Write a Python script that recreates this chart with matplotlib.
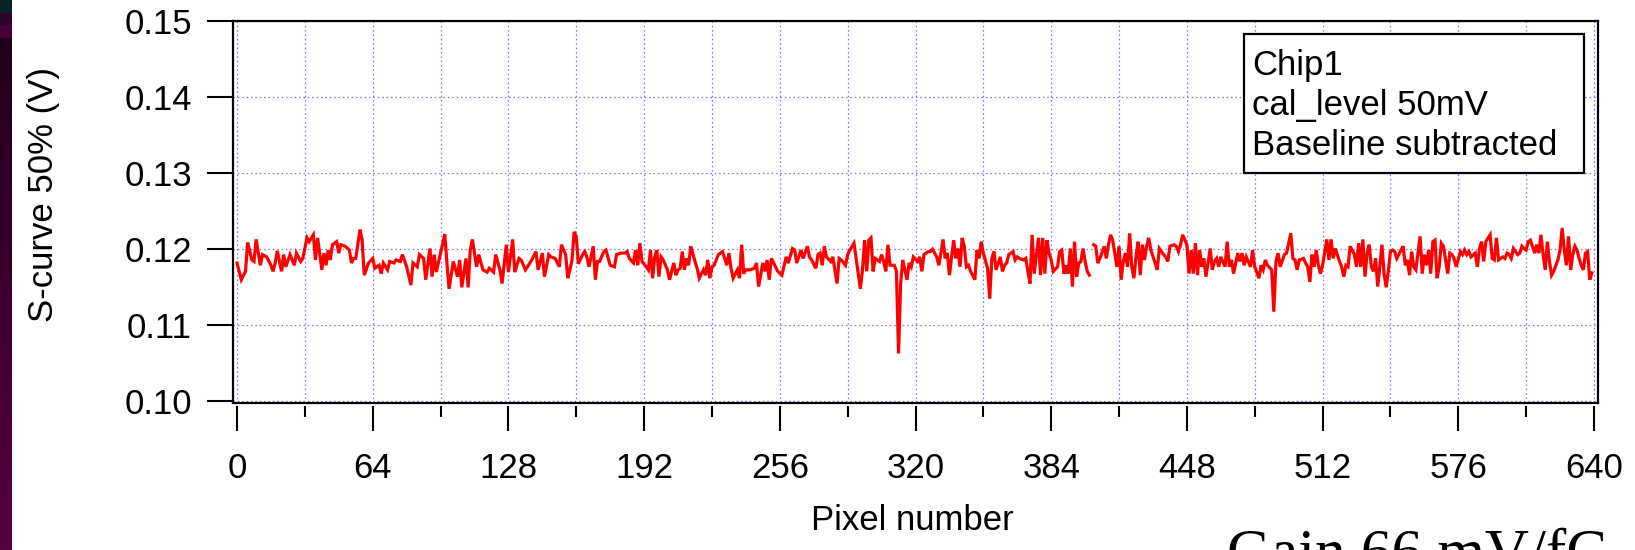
import numpy as np
import matplotlib
matplotlib.use("Agg")
import matplotlib.pyplot as plt
from matplotlib.patches import Rectangle
from matplotlib.lines import Line2D

# S-curve 50% point per pixel (pixel, volts)
seg1 = [(0, 0.1182), (2, 0.1160), (4, 0.1171), (5, 0.1209), (7, 0.1186), (8, 0.1184), (9, 0.1213),
        (11, 0.1179), (12, 0.1193), (14, 0.1190), (16, 0.1179), (17, 0.1171), (18, 0.1182), (19, 0.1198),
        (21, 0.1171), (22, 0.1193), (23, 0.1177), (25, 0.1193), (27, 0.1179), (28, 0.1195), (30, 0.1184),
        (31, 0.1188), (33, 0.1215), (34, 0.1210), (36, 0.1219), (37, 0.1186), (38, 0.1215), (40, 0.1173),
        (41, 0.1195), (42, 0.1179), (43, 0.1199), (44, 0.1186), (45, 0.1206), (47, 0.1210), (48, 0.1195),
        (49, 0.1206), (51, 0.1204), (53, 0.1199), (54, 0.1182), (55, 0.1188), (56, 0.1188), (58, 0.1226),
        (59, 0.1212), (60, 0.1166), (62, 0.1182), (64, 0.1188), (65, 0.1175), (67, 0.1179), (68, 0.1168),
        (69, 0.1182), (71, 0.1173), (72, 0.1184), (74, 0.1182), (75, 0.1186), (77, 0.1184), (78, 0.1193),
        (80, 0.1177), (82, 0.1153), (83, 0.1182), (85, 0.1177), (86, 0.1193), (88, 0.1188), (89, 0.1160),
        (91, 0.1201), (92, 0.1164), (93, 0.1193), (94, 0.1170), (96, 0.1195), (98, 0.1220), (99, 0.1182),
        (100, 0.1148), (102, 0.1184), (104, 0.1164), (105, 0.1186), (106, 0.1150), (108, 0.1188),
        (109, 0.1150), (110, 0.1199), (111, 0.1213), (113, 0.1177), (114, 0.1193), (116, 0.1173),
        (118, 0.1170), (119, 0.1175), (121, 0.1170), (122, 0.1193), (124, 0.1173), (125, 0.1155),
        (127, 0.1206), (128, 0.1170), (130, 0.1213), (131, 0.1170), (133, 0.1188), (134, 0.1186),
        (136, 0.1173), (137, 0.1177), (139, 0.1186), (141, 0.1197), (142, 0.1173), (144, 0.1195),
        (145, 0.1164), (147, 0.1193), (148, 0.1190), (150, 0.1188), (152, 0.1177), (153, 0.1206),
        (155, 0.1193), (156, 0.1162), (157, 0.1173)]

seg2 = [(158, 0.1186), (159, 0.1223), (160, 0.1217), (161, 0.1181), (163, 0.1193), (164, 0.1197),
        (165, 0.1190), (166, 0.1177), (168, 0.1204), (169, 0.1160), (170, 0.1184), (171, 0.1184),
        (173, 0.1197), (174, 0.1199), (176, 0.1179), (178, 0.1177), (179, 0.1193), (181, 0.1195),
        (183, 0.1195), (184, 0.1197), (185, 0.1188), (187, 0.1182), (188, 0.1199), (189, 0.1179),
        (190, 0.1208), (191, 0.1184), (193, 0.1177), (194, 0.1173), (195, 0.1199), (196, 0.1162),
        (197, 0.1190), (198, 0.1199), (199, 0.1164), (200, 0.1190), (201, 0.1186), (203, 0.1173),
        (204, 0.1160), (206, 0.1182), (207, 0.1166), (208, 0.1173), (209, 0.1175), (210, 0.1197),
        (211, 0.1173), (212, 0.1188), (213, 0.1179), (214, 0.1204), (216, 0.1184), (217, 0.1175),
        (218, 0.1162), (220, 0.1173), (221, 0.1166), (222, 0.1186), (223, 0.1162), (224, 0.1177),
        (225, 0.1179), (227, 0.1193), (228, 0.1195), (229, 0.1197), (231, 0.1179), (232, 0.1195),
        (233, 0.1175), (234, 0.1162), (236, 0.1173), (237, 0.1162), (238, 0.1206), (239, 0.1168),
        (240, 0.1173), (242, 0.1173), (244, 0.1175), (245, 0.1182), (246, 0.1151), (248, 0.1182),
        (249, 0.1171), (250, 0.1186), (251, 0.1160), (252, 0.1188), (254, 0.1177), (255, 0.1171),
        (257, 0.1166), (259, 0.1190), (260, 0.1182), (262, 0.1201), (263, 0.1199), (264, 0.1182),
        (266, 0.1199), (267, 0.1188), (269, 0.1204), (270, 0.1190), (271, 0.1186), (273, 0.1175),
        (274, 0.1193), (275, 0.1195), (276, 0.1179), (277, 0.1204), (278, 0.1190), (280, 0.1184),
        (281, 0.1190), (283, 0.1155), (284, 0.1188), (285, 0.1186), (287, 0.1179), (288, 0.1193),
        (289, 0.1199), (291, 0.1208), (292, 0.1188), (294, 0.1148), (295, 0.1173), (296, 0.1212),
        (297, 0.1171), (298, 0.1212), (299, 0.1215), (300, 0.1171), (301, 0.1188), (303, 0.1184),
        (304, 0.1193), (305, 0.1184), (306, 0.1171), (307, 0.1206), (308, 0.1179), (310, 0.1179),
        (311, 0.1171), (312, 0.1063), (313, 0.1155), (314, 0.1186), (316, 0.1160), (317, 0.1182)]

seg3 = [(318, 0.1177), (319, 0.1190), (321, 0.1184), (322, 0.1190), (323, 0.1171), (324, 0.1193),
        (325, 0.1195), (326, 0.1197), (327, 0.1197), (328, 0.1200), (330, 0.1190), (331, 0.1179),
        (332, 0.1195), (333, 0.1213), (334, 0.1188), (335, 0.1195), (336, 0.1166), (338, 0.1212),
        (339, 0.1188), (340, 0.1201), (341, 0.1177), (342, 0.1215), (343, 0.1204), (344, 0.1177),
        (345, 0.1179), (346, 0.1171), (348, 0.1160), (349, 0.1199), (350, 0.1188), (351, 0.1210),
        (352, 0.1195), (354, 0.1175), (355, 0.1135), (356, 0.1188), (357, 0.1197), (358, 0.1173),
        (360, 0.1190), (361, 0.1171), (362, 0.1179), (363, 0.1182), (364, 0.1193), (366, 0.1197),
        (367, 0.1186), (368, 0.1190), (369, 0.1188), (371, 0.1186), (372, 0.1188), (373, 0.1171),
        (374, 0.1155), (375, 0.1219), (376, 0.1168), (378, 0.1215), (379, 0.1166), (380, 0.1215),
        (381, 0.1168), (382, 0.1212), (383, 0.1195), (384, 0.1186), (385, 0.1171), (387, 0.1177),
        (388, 0.1197), (389, 0.1199), (390, 0.1168), (391, 0.1179), (392, 0.1168), (393, 0.1201),
        (394, 0.1151), (395, 0.1210), (396, 0.1164), (397, 0.1182), (398, 0.1184), (399, 0.1201),
        (400, 0.1184), (401, 0.1171), (402, 0.1166), (403, np.nan),
        (404, 0.1206), (405, 0.1204), (406, 0.1182), (407, 0.1188), (409, 0.1204), (410, 0.1188),
        (411, 0.1206), (412, 0.1219), (413, 0.1212), (415, 0.1177), (416, 0.1204), (417, 0.1160),
        (418, 0.1184), (419, 0.1195), (420, 0.1177), (421, 0.1221), (422, 0.1177), (423, 0.1162),
        (424, 0.1190), (425, 0.1210), (426, 0.1166), (427, 0.1206), (428, 0.1186), (429, 0.1204),
        (430, 0.1215), (431, 0.1199), (433, 0.1182), (434, 0.1173), (435, 0.1201), (436, 0.1197),
        (437, 0.1193), (438, 0.1190), (439, 0.1184), (440, 0.1204), (442, 0.1206), (443, 0.1204),
        (444, 0.1197), (445, 0.1206), (446, 0.1219), (448, 0.1206), (449, 0.1168), (450, 0.1199),
        (451, 0.1168), (452, 0.1208), (453, 0.1166), (454, 0.1199), (455, 0.1177), (456, 0.1188),
        (457, 0.1164), (459, 0.1201), (460, 0.1173), (461, 0.1184), (462, 0.1188), (463, 0.1177),
        (464, 0.1190), (466, 0.1177), (467, 0.1210), (468, 0.1177), (469, 0.1186), (470, 0.1168),
        (472, 0.1195), (473, 0.1184), (474, 0.1195), (475, 0.1179), (476, 0.1190), (478, 0.1177)]

seg4 = [(479, 0.1199), (480, 0.1177), (482, 0.1162), (483, 0.1179), (484, 0.1173), (485, 0.1186),
        (486, 0.1179), (488, 0.1173), (489, 0.1118), (490, 0.1184), (491, 0.1195), (492, 0.1177),
        (494, 0.1193), (495, 0.1195), (497, 0.1221), (498, 0.1188), (499, 0.1186), (500, 0.1173),
        (501, 0.1186), (503, 0.1188), (504, 0.1182), (505, 0.1177), (506, 0.1157), (507, 0.1193),
        (508, 0.1177), (509, 0.1199), (510, 0.1179), (511, 0.1168), (512, 0.1179), (514, 0.1213),
        (515, 0.1186), (516, 0.1213), (517, 0.1188), (518, 0.1201), (520, 0.1184), (521, 0.1177),
        (522, 0.1164), (523, 0.1179), (524, 0.1177), (525, 0.1204), (527, 0.1193), (528, 0.1177),
        (529, 0.1208), (530, 0.1177), (531, 0.1213), (532, 0.1164), (533, 0.1195), (534, 0.1206),
        (535, 0.1177), (536, 0.1171), (537, 0.1188), (538, 0.1151), (539, 0.1177), (540, 0.1206),
        (541, 0.1168), (542, 0.1150), (543, 0.1171), (544, 0.1197), (545, 0.1199), (546, 0.1197),
        (547, 0.1188), (549, 0.1199), (550, 0.1204), (551, 0.1179), (552, 0.1186), (553, 0.1166),
        (554, 0.1197), (555, 0.1177), (556, 0.1173), (558, 0.1217), (559, 0.1168), (560, 0.1193),
        (561, 0.1179), (562, 0.1199), (563, 0.1168), (564, 0.1210), (565, 0.1212), (566, 0.1162),
        (567, 0.1177), (568, 0.1208), (569, 0.1204), (571, 0.1168), (572, 0.1195), (573, 0.1193),
        (574, 0.1188), (575, 0.1177), (577, 0.1197), (578, 0.1193), (579, 0.1199), (580, 0.1193),
        (581, 0.1197), (582, 0.1190), (584, 0.1195), (585, 0.1177), (586, 0.1201), (587, 0.1210),
        (588, 0.1184), (589, 0.1210), (591, 0.1219), (592, 0.1188), (593, 0.1186), (594, 0.1215),
        (595, 0.1186), (597, 0.1190), (598, 0.1188), (599, 0.1195), (600, 0.1193), (601, 0.1188),
        (602, 0.1201), (604, 0.1193), (605, 0.1195), (606, 0.1204), (607, 0.1201), (608, 0.1199),
        (609, 0.1210), (610, 0.1212), (612, 0.1195), (613, 0.1206), (614, 0.1195), (615, 0.1219),
        (616, 0.1193), (617, 0.1173), (618, 0.1210), (619, 0.1184), (620, 0.1166), (621, 0.1171),
        (623, 0.1186), (624, 0.1199), (625, 0.1228), (626, 0.1199), (627, 0.1179), (628, 0.1217),
        (629, 0.1173), (630, 0.1193), (631, 0.1204), (632, 0.1199), (633, 0.1188), (634, 0.1179),
        (635, 0.1173), (636, 0.1195), (637, 0.1197), (638, 0.1160), (639, 0.1169)]

legend_lines = ["Chip1", "cal_level 50mV", "Baseline subtracted"]
x_major = np.arange(0, 641, 64)
y_major = [0.10, 0.11, 0.12, 0.13, 0.14, 0.15]

pts = seg1 + seg2 + seg3 + seg4
pixel = np.array([p[0] for p in pts])
s50 = np.array([p[1] for p in pts])

plt.rcParams['font.family'] = ['Liberation Sans', 'DejaVu Sans']
W, H = 1635, 550
fig = plt.figure(figsize=(W / 100, H / 100), dpi=100)
fig.patch.set_facecolor('white')

# slide background strip on the left
strip = fig.add_axes([0, 0, 11 / W, 1])
rows = np.zeros((H, 1, 3))
top = np.array([0x1e, 0x00, 0x1a]) / 255
bot = np.array([0x58, 0x00, 0x40]) / 255
for i in range(H):
    t = i / (H - 1)
    rows[i, 0] = top * (1 - t) + bot * t
rows[0:13, 0] = np.array([0x06, 0x22, 0x22]) / 255
rows[13:25, 0] = np.array([0x2c, 0x04, 0x28]) / 255
rows[25:38, 0] = np.array([0x48, 0x00, 0x3a]) / 255
strip.imshow(rows, aspect='auto', interpolation='nearest')
strip.axis('off')

ax = fig.add_axes([233 / W, 1 - 403 / H, (1598 - 233) / W, (403 - 21) / H])
ax.plot(pixel, s50, color='#ff0000', lw=2.3, solid_joinstyle='miter')

ax.set_xlim(-1.9, 641.9)
ax.set_ylim(0.0998, 0.15)
ax.set_xticks(x_major)
ax.set_xticks(np.arange(32, 640, 64), minor=True)
ax.set_yticks(y_major)
ax.set_yticklabels(['%.2f' % v for v in y_major])

ax.grid(True, which='both', axis='x', color='#7070ff', lw=0.9, linestyle=(0, (1.2, 2.3)))
ax.grid(True, which='major', axis='y', color='#7070ff', lw=0.9, linestyle=(0, (1.2, 2.3)))
ax.set_axisbelow(True)

for s in ['top', 'right', 'left']:
    ax.spines[s].set_linewidth(1.6)
ax.spines['bottom'].set_position(('outward', 2.5))
ax.spines['bottom'].set_visible(False)
ax.add_line(Line2D([0, 1], [0, 0], transform=ax.transAxes, color='black', lw=1.6, clip_on=False))

ax.tick_params(axis='y', which='major', direction='out', length=18.5, width=1.5, labelsize=25, pad=11)
ax.tick_params(axis='x', which='major', direction='out', length=18, width=1.5, labelsize=25, pad=15)
ax.tick_params(axis='x', which='minor', direction='out', length=8, width=1.5)

fig.text(912 / W, 1 - 521 / H, "Pixel number", fontsize=25, ha='center', va='center')
fig.text(44 / W, 1 - 195 / H, "S-curve 50% (V)", fontsize=25, rotation=90, ha='center', va='center')

# annotation box
fig.patches.append(Rectangle((1244 / W, 1 - 173 / H), 340 / W, 139 / H, transform=fig.transFigure,
                             facecolor='white', edgecolor='black', lw=1.6, zorder=5))
for i, line in enumerate(legend_lines):
    fig.text(1252 / W, 1 - (75 + 40 * i) / H, line, fontsize=25, ha='left', va='baseline', zorder=6)

# slide caption, cut by the bottom edge as in the original
fig.text(1227 / W, 1 - 528 / H, "Gain 66 mV/fC", fontsize=44, family=['Liberation Serif', 'DejaVu Serif'],
         ha='left', va='top')

fig.savefig('out.png', dpi=100)
